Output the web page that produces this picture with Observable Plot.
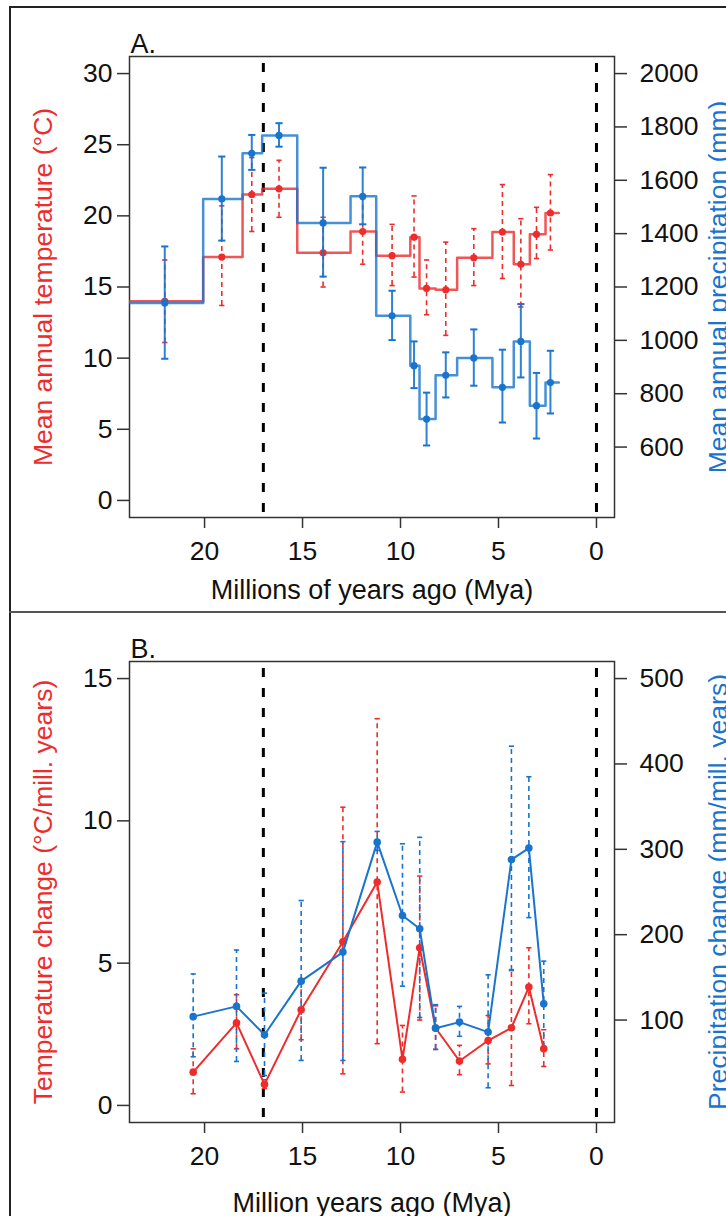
<!DOCTYPE html>
<html>
<head>
<meta charset="utf-8">
<script src="https://cdn.jsdelivr.net/npm/d3@7"></script>
<script src="https://cdn.jsdelivr.net/npm/@observablehq/plot@0.6"></script>
<style>
  html, body { margin: 0; padding: 0; background: #fff; overflow: hidden; }
  #fig { position: relative; width: 726px; height: 1216px; overflow: hidden; background: #fff;
         font-family: "Liberation Sans", Arial, sans-serif; }
  #fig .panel { position: absolute; left: 0; }
  #fig .rule { position: absolute; }
</style>
</head>
<body>
<div id="fig">
  <div id="panelA" class="panel" style="top:0px"></div>
  <div id="panelB" class="panel" style="top:605px"></div>
  <div class="rule" style="left:9px;top:6px;width:760px;height:2px;background:#222"></div>
  <div class="rule" style="left:9px;top:6px;width:2px;height:1260px;background:#222"></div>
  <div class="rule" style="left:9px;top:611px;width:760px;height:2px;background:#555"></div>
</div>
<script>
// ---------- Panel A: climate means per mammal zone ----------
// zone boundaries (Mya), oldest first
const zoneEdges = [24, 20.07, 18.06, 17.06, 15.27, 12.55, 11.24, 9.5, 9.03, 8.21, 7.11, 5.31, 4.22, 3.4, 2.6, 1.92];
// age at which each zone estimate is plotted (Mya)
const zoneAges = [22.03, 19.12, 17.59, 16.2, 13.95, 11.93, 10.43, 9.31, 8.67, 7.69, 6.26, 4.8, 3.86, 3.06, 2.35];
// mean annual temperature (°C) with lower / upper bounds
const meanTemp = [14.0, 17.1, 21.5, 21.9, 17.4, 18.9, 17.2, 18.5, 14.9, 14.8, 17.05, 18.86, 16.6, 18.7, 20.2];
const tempLow  = [11.1, 13.7, 18.9, 19.9, 15.0, 16.6, 15.1, 15.7, 13.05, 11.6, 15.1, 15.6, 13.6, 17.0, 17.6];
const tempHigh = [16.9, 20.7, 24.1, 23.9, 19.9, 21.2, 19.4, 21.4, 16.9, 18.15, 19.1, 22.2, 19.8, 20.6, 22.9];
// mean annual precipitation (mm) with lower / upper bounds
const meanPrecip = [1140, 1530, 1701, 1768, 1440, 1540, 1092, 905, 705, 869, 934, 824, 996, 755, 842];
const precipLow  = [931, 1374, 1639, 1726, 1239, 1435, 1001, 821, 606, 786, 830, 692, 861, 632, 726];
const precipHigh = [1352, 1689, 1770, 1814, 1647, 1648, 1186, 996, 804, 955, 1041, 965, 1136, 878, 961];

// ---------- Panel B: rates of change between zones ----------
const rateAges = [20.58, 18.37, 16.94, 15.07, 12.94, 11.19, 9.9, 9.02, 8.21, 6.99, 5.53, 4.34, 3.45, 2.69];
// temperature change (°C per million years)
const tempRate     = [1.17, 2.9, 0.74, 3.36, 5.75, 7.85, 1.62, 5.54, 2.72, 1.56, 2.28, 2.73, 4.16, 1.99];
const tempRateLow  = [0.41, 1.99, 0.6, 2.31, 1.11, 2.17, 0.47, 3.0, 1.97, 1.08, 1.46, 0.7, 2.87, 1.37];
const tempRateHigh = [1.99, 3.89, 0.9, 4.4, 10.48, 13.59, 2.81, 8.06, 3.5, 2.11, 3.16, 4.77, 5.54, 2.66];
// precipitation change (mm per million years)
const precipRate     = [104, 116, 82.8, 145.6, 179.6, 308.4, 222.5, 207, 90.5, 97.6, 85.9, 288, 301.4, 119];
const precipRateLow  = [57, 51.5, 35, 52.7, 52.7, 298.7, 139.7, 103, 65.6, 81, 20.7, 158, 220, 69];
const precipRateHigh = [154, 182, 131.5, 240, 309, 321, 306.5, 314, 118, 116, 153, 420.8, 385, 169];

// axis ticks
const ageTicks = [20, 15, 10, 5, 0];
const tempTicksA = [0, 5, 10, 15, 20, 25, 30];
const precipTicksA = [600, 800, 1000, 1200, 1400, 1600, 1800, 2000];
const tempTicksB = [0, 5, 10, 15];
const precipTicksB = [100, 200, 300, 400, 500];
// reference ages marked with dashed lines
const markerAges = [17, 0];

const red = "#EE2C2C";
const blue = "#1874CD";
const ink = "#111";
const fs = 26.5;
const font = "'Liberation Sans', Arial, sans-serif";
const dash = "5,4";

// short horizontal line used as an error-bar cap
const cap = {
  draw(ctx, size) {
    const r = Math.sqrt(size / Math.PI);
    ctx.moveTo(-r, 0);
    ctx.lineTo(r, 0);
  }
};

// precipitation shares the temperature scale through a linear map
const pToA = (p) => (p - 400) * 30 / 1600;
const aToP = (t) => t * 1600 / 30 + 400;
const pToB = (p) => p * 15 / 500;
const bToP = (t) => t * 500 / 15;

const ageDomain = [23.83, -0.92];

function commonMarks(xTitle, titleGap, letter, leftTitle, rightTitle, leftTicks, rightTicks, rightFmt) {
  return [
    Plot.ruleX(markerAges, {stroke: "#000", strokeWidth: 3, strokeDasharray: "9,11", strokeDashoffset: -7}),
    Plot.frame({stroke: "#333", strokeWidth: 1.5}),
    Plot.axisX({ticks: ageTicks, tickSize: 11, tickPadding: 13, label: null, fontSize: fs, fill: ink, stroke: "#333", strokeWidth: 1.5, tickFormat: (d) => String(d)}),
    Plot.axisY({anchor: "left", ticks: leftTicks, tickSize: 12, tickPadding: 5, label: null, fontSize: fs, fill: ink, stroke: "#333", strokeWidth: 1.5, tickFormat: (d) => String(d)}),
    Plot.axisY({anchor: "right", ticks: rightTicks, tickSize: 12, tickPadding: 13, label: null, fontSize: fs, fill: ink, stroke: "#333", strokeWidth: 1.5, tickFormat: rightFmt}),
    Plot.text([xTitle], {text: (d) => d, frameAnchor: "bottom", dy: titleGap, lineAnchor: "bottom", textAnchor: "middle", fontSize: 27, fill: ink}),
    Plot.text([letter], {text: (d) => d, frameAnchor: "top-left", dx: 1, dy: -4, lineAnchor: "bottom", textAnchor: "start", fontSize: 27, fill: ink}),
    Plot.text([leftTitle], {text: (d) => d, frameAnchor: "left", dx: -78, rotate: -90, lineAnchor: "bottom", textAnchor: "middle", fontSize: fs, fill: red}),
    Plot.text([rightTitle], {text: (d) => d, frameAnchor: "right", dx: 112, rotate: -90, lineAnchor: "bottom", textAnchor: "middle", fontSize: fs, fill: blue})
  ];
}

// ---- Panel A ----
const rowsA = zoneAges.map((age, i) => ({
  age,
  t: meanTemp[i], tLo: tempLow[i], tHi: tempHigh[i],
  p: pToA(meanPrecip[i]), pLo: pToA(precipLow[i]), pHi: pToA(precipHigh[i])
}));
// stepped outline: each zone's value held across its interval
const stepT = meanTemp.flatMap((v, i) => [{age: zoneEdges[i], v}, {age: zoneEdges[i + 1], v}]);
const stepP = meanPrecip.flatMap((v, i) => [{age: zoneEdges[i], v: pToA(v)}, {age: zoneEdges[i + 1], v: pToA(v)}]);

const plotA = Plot.plot({
  width: 726, height: 605,
  marginLeft: 129, marginRight: 112, marginTop: 56, marginBottom: 88,
  style: {fontFamily: font, fontSize: fs + "px", background: "transparent", overflow: "visible"},
  x: {domain: ageDomain},
  y: {domain: [-1.2, 31.2]},
  marks: [
    ...commonMarks("Millions of years ago (Mya)", 81, "A.", "Mean annual temperature (°C)", "Mean annual precipitation (mm)",
      tempTicksA, precipTicksA.map(pToA), (d) => String(Math.round(aToP(d)))),
    Plot.line(stepT, {x: "age", y: "v", stroke: red, strokeWidth: 2.5, strokeOpacity: 0.8, clip: true}),
    Plot.ruleX(rowsA, {x: "age", y1: "tLo", y2: "tHi", stroke: red, strokeWidth: 1.6, strokeDasharray: dash}),
    Plot.dot(rowsA, {x: "age", y: "tLo", symbol: cap, r: 2.6, stroke: red, fill: "none", strokeWidth: 1.6}),
    Plot.dot(rowsA, {x: "age", y: "tHi", symbol: cap, r: 2.6, stroke: red, fill: "none", strokeWidth: 1.6}),
    Plot.dot(rowsA, {x: "age", y: "t", r: 3.6, fill: red, stroke: "none"}),
    Plot.line(stepP, {x: "age", y: "v", stroke: blue, strokeWidth: 2.5, strokeOpacity: 0.8, clip: true}),
    Plot.ruleX(rowsA, {x: "age", y1: "pLo", y2: "pHi", stroke: blue, strokeWidth: 2, strokeOpacity: 0.9}),
    Plot.dot(rowsA, {x: "age", y: "pLo", symbol: cap, r: 3.6, stroke: blue, fill: "none", strokeWidth: 2}),
    Plot.dot(rowsA, {x: "age", y: "pHi", symbol: cap, r: 3.6, stroke: blue, fill: "none", strokeWidth: 2}),
    Plot.dot(rowsA, {x: "age", y: "p", r: 3.6, fill: blue, stroke: "none"})
  ]
});
document.getElementById("panelA").appendChild(plotA);

// ---- Panel B ----
const rowsB = rateAges.map((age, i) => ({
  age,
  t: tempRate[i], tLo: tempRateLow[i], tHi: tempRateHigh[i],
  p: pToB(precipRate[i]), pLo: pToB(precipRateLow[i]), pHi: pToB(precipRateHigh[i])
}));

const plotB = Plot.plot({
  width: 726, height: 611,
  marginLeft: 129, marginRight: 112, marginTop: 56, marginBottom: 94,
  style: {fontFamily: font, fontSize: fs + "px", background: "transparent", overflow: "visible"},
  x: {domain: ageDomain},
  y: {domain: [-0.6, 15.6]},
  marks: [
    ...commonMarks("Million years ago (Mya)", 89, "B.", "Temperature change (°C/mill. years)", "Precipitation change (mm/mill. years)",
      tempTicksB, precipTicksB.map(pToB), (d) => String(Math.round(bToP(d)))),
    Plot.ruleX(rowsB, {x: "age", y1: "tLo", y2: "tHi", stroke: red, strokeWidth: 1.6, strokeDasharray: dash}),
    Plot.dot(rowsB, {x: "age", y: "tLo", symbol: cap, r: 2.6, stroke: red, fill: "none", strokeWidth: 1.6}),
    Plot.dot(rowsB, {x: "age", y: "tHi", symbol: cap, r: 2.6, stroke: red, fill: "none", strokeWidth: 1.6}),
    Plot.ruleX(rowsB, {x: "age", y1: "pLo", y2: "pHi", stroke: blue, strokeWidth: 1.6, strokeDasharray: dash}),
    Plot.dot(rowsB, {x: "age", y: "pLo", symbol: cap, r: 2.6, stroke: blue, fill: "none", strokeWidth: 1.6}),
    Plot.dot(rowsB, {x: "age", y: "pHi", symbol: cap, r: 2.6, stroke: blue, fill: "none", strokeWidth: 1.6}),
    Plot.line(rowsB, {x: "age", y: "t", stroke: red, strokeWidth: 2}),
    Plot.dot(rowsB, {x: "age", y: "t", r: 3.8, fill: red, stroke: "none"}),
    Plot.line(rowsB, {x: "age", y: "p", stroke: blue, strokeWidth: 2}),
    Plot.dot(rowsB, {x: "age", y: "p", r: 3.8, fill: blue, stroke: "none"})
  ]
});
document.getElementById("panelB").appendChild(plotB);
</script>
</body>
</html>
